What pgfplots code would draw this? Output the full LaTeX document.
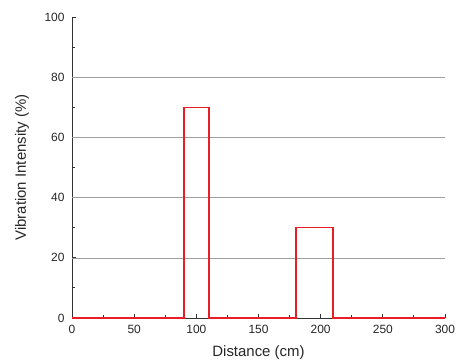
\documentclass[border=0pt]{standalone}
\usepackage{pgfplots}
\pgfplotsset{compat=1.18}
\usepackage{fontspec}
\setmainfont{Liberation Sans}
\definecolor{myred}{RGB}{232,30,36}
\begin{document}
\begin{tikzpicture}
\begin{axis}[
  at={(0,0)}, anchor=origin,
  scale only axis,
  width=373bp, height=301bp,
  xmin=0, xmax=300, ymin=0, ymax=100,
  axis lines*=left,
  axis line style={black!80, line width=0.9pt},
  xtick={0,50,...,300}, ytick={0,20,...,100},
  minor x tick num=1, minor y tick num=1,
  tick align=inside,
  major tick length=4.5pt, minor tick length=3pt,
  tick style={black!80, line width=0.9pt},
  extra y ticks={20,40,60,80},
  extra y tick labels={},
  extra y tick style={grid=major, major tick length=0pt},
  major grid style={gray!75, line width=0.6pt},
  clip=false,
  /pgf/number format/assume math mode=true,
  ticklabel style={font=\fontsize{12}{14}\selectfont, text=black!85},
  xticklabel style={yshift=-4bp},
  yticklabel style={xshift=-4bp},
  label style={font=\fontsize{15}{17}\selectfont, text=black!85},
  xlabel={Distance (cm)},
  ylabel={Vibration Intensity (\%)},
  xlabel style={at={(axis description cs:0.5,-0.116)}, anchor=center},
  ylabel style={at={(axis description cs:-0.134,0.5)}, anchor=center},
]
\addplot[myred, line width=1.6pt, line join=miter] coordinates {
(0,0) (90,0) (90,70) (110,70) (110,0) (180,0) (180,30) (210,30) (210,0) (300,0)
};
\end{axis}
\pgfresetboundingbox
\path (-72bp,-45bp) rectangle (385bp,318bp);
\end{tikzpicture}
\end{document}
